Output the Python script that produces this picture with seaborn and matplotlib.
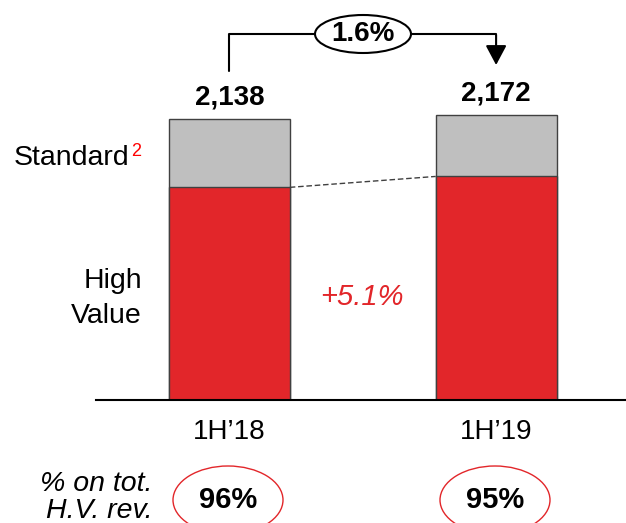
import matplotlib
matplotlib.use("Agg")
import matplotlib.pyplot as plt
from matplotlib.patches import Ellipse
from matplotlib.transforms import blended_transform_factory
import seaborn as sns

# data
periods = ["1H\u201918", "1H\u201919"]
high_value = [1618, 1701]
standard = [520, 471]
totals = [h + s for h, s in zip(high_value, standard)]
hv_share = ["96%", "95%"]
total_growth = "1.6%"
hv_growth = "+5.1%"

RED = "#E2262A"
GREY = "#BFBFBF"
EDGE = "#404040"
W, H = 626, 523

sns.set_style("white")
plt.rcParams["font.family"] = ["Liberation Sans", "DejaVu Sans"]
plt.rcParams["text.color"] = "black"


def fx(px):
    return px / W


def fy(py):
    return 1 - py / H


fig = plt.figure(figsize=(W / 100, H / 100), dpi=100)
ax = fig.add_axes([fx(96), 1 - 400 / H, 530 / W, 400 / H])

bar_w = 0.453
sns.barplot(x=periods, y=totals, color=GREY, saturation=1, width=bar_w,
            edgecolor=EDGE, linewidth=1, ax=ax)
sns.barplot(x=periods, y=high_value, color=RED, saturation=1, width=bar_w,
            edgecolor=EDGE, linewidth=1, ax=ax)

ax.set_xlim(-0.5, 1.487)
ax.set_ylim(0, 400 * totals[0] / 281)
ax.set_yticks([])
ax.set_ylabel("")
for side in ["top", "right", "left"]:
    ax.spines[side].set_visible(False)
ax.spines["bottom"].set_color("black")
ax.spines["bottom"].set_linewidth(1.5)
ax.tick_params(axis="x", length=0, pad=14, labelsize=20, colors="black")

# totals on top of the bars
for i, t in enumerate(totals):
    ax.annotate(f"{t:,}", xy=(i, t), xytext=(0, 15.5), textcoords="offset points",
                ha="center", va="center", fontsize=20, fontweight="bold")

# dashed connector between the high value tops
ax.plot([bar_w / 2, 1 - bar_w / 2], high_value, color=EDGE, lw=1,
        ls=(0, (4, 2)))

# growth arrow over the bars
blend = blended_transform_factory(ax.transData, fig.transFigure)
ax.plot([0, 0, 1], [fy(71), fy(34), fy(34)], color="black", lw=1.5,
        transform=blend, clip_on=False)
ax.annotate("", xy=(1, fy(65)), xytext=(1, fy(34.7)), xycoords=blend,
            textcoords=blend,
            arrowprops=dict(arrowstyle="-|>,head_length=0.6,head_width=0.32",
                            color="black", lw=1.5, mutation_scale=20,
                            shrinkA=0, shrinkB=0))
fig.add_artist(Ellipse((fx(363), fy(34)), 96 / W, 38 / H, transform=fig.transFigure,
                       facecolor="white", edgecolor="black", lw=1.5, zorder=5))
fig.text(fx(363), fy(34), total_growth, ha="center", va="center", fontsize=20,
         fontweight="bold", zorder=6)

# segment labels on the left
fig.text(fx(129), fy(165), "Standard", ha="right", va="baseline", fontsize=20.5)
fig.text(fx(131), fy(156), "2", ha="left", va="baseline", fontsize=13, color="red")
fig.text(fx(142), fy(288), "High", ha="right", va="baseline", fontsize=20.5)
fig.text(fx(142), fy(323), "Value", ha="right", va="baseline", fontsize=20.5)

fig.text(fx(362), fy(305), hv_growth, ha="center", va="baseline", fontsize=21,
         style="italic", color=RED)

# share of high value revenues
fig.text(fx(152), fy(491), "% on tot.", ha="right", va="baseline", fontsize=20.5,
         style="italic")
fig.text(fx(152), fy(518), "H.V. rev.", ha="right", va="baseline", fontsize=20.5,
         style="italic")
for cx, s in zip([228, 495], hv_share):
    fig.add_artist(Ellipse((fx(cx), fy(500)), 110 / W, 68 / H, transform=fig.transFigure,
                           facecolor="none", edgecolor=RED, lw=1))
    fig.text(fx(cx), fy(500), s, ha="center", va="center", fontsize=21,
             fontweight="bold")

fig.savefig("out.png", dpi=100)
